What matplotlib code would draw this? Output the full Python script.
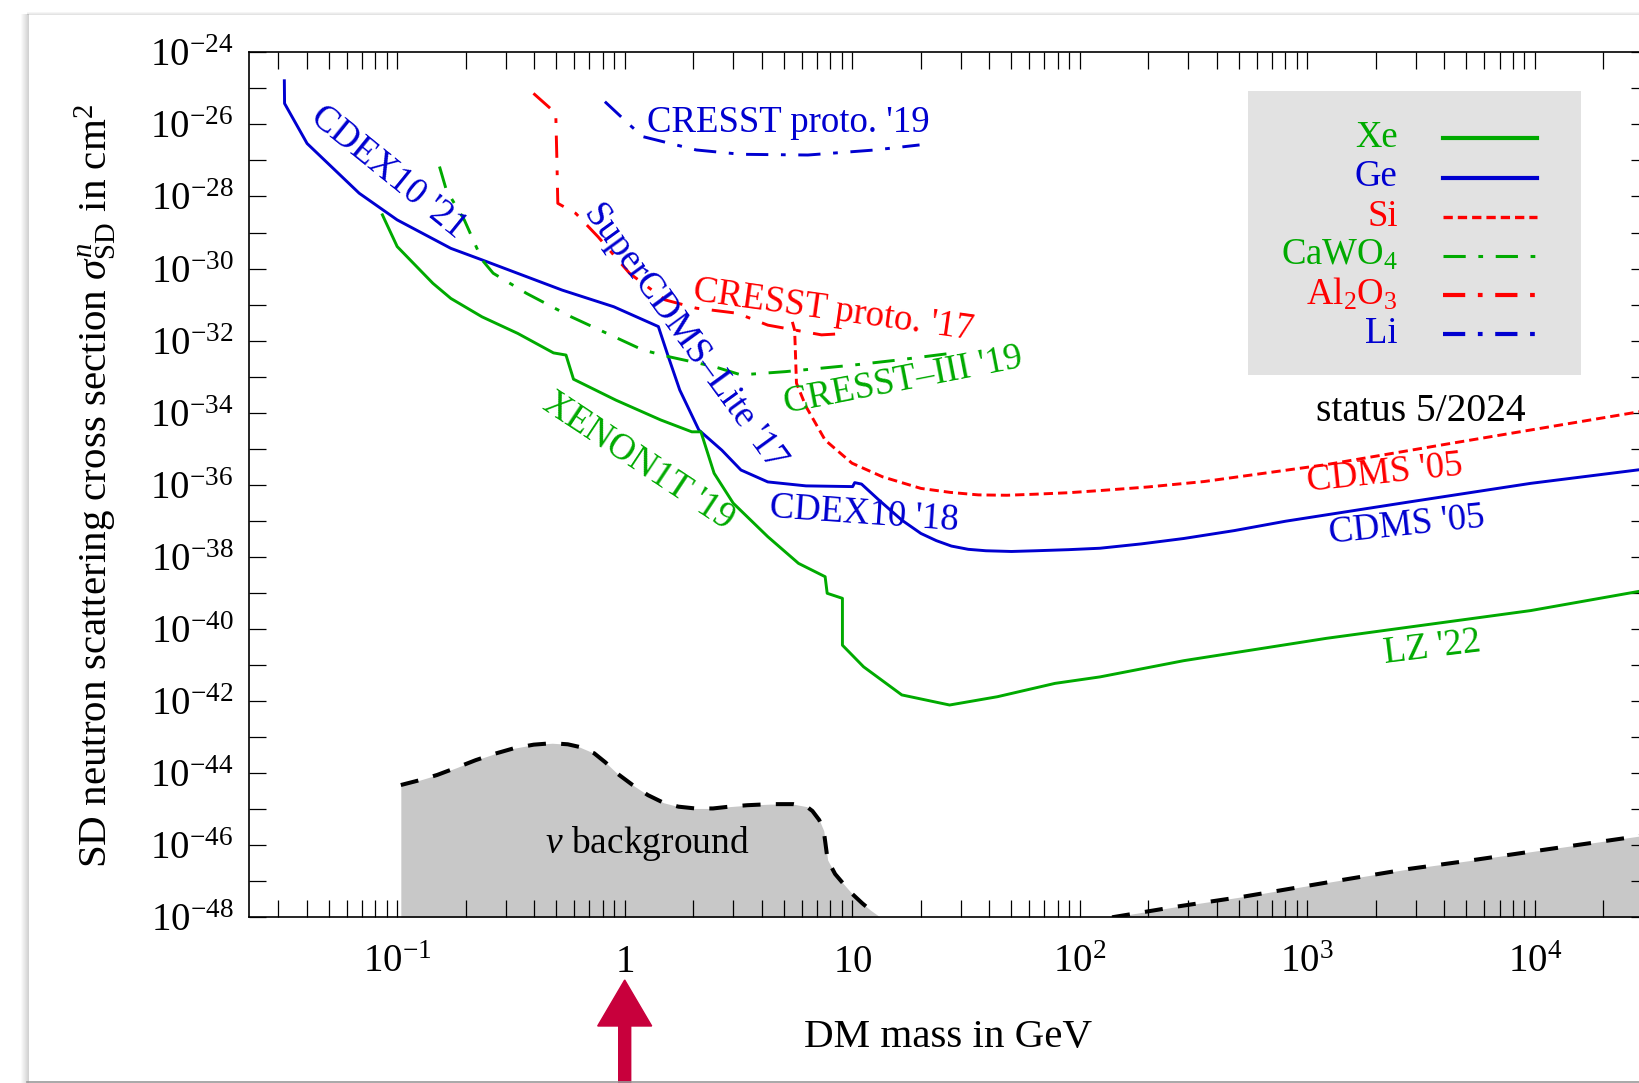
import numpy as np
import matplotlib
matplotlib.use("Agg")
import matplotlib.pyplot as plt
import matplotlib.transforms as mtransforms
from matplotlib.lines import Line2D
from matplotlib.patches import Rectangle, Polygon
from matplotlib.ticker import FixedLocator, FixedFormatter, NullFormatter, LogLocator

plt.rcParams["font.family"] = ["Liberation Serif", "DejaVu Serif"]
plt.rcParams["mathtext.fontset"] = "custom"
plt.rcParams["mathtext.rm"] = "Liberation Serif"
plt.rcParams["mathtext.it"] = "Liberation Serif:italic"
plt.rcParams["mathtext.bf"] = "Liberation Serif:bold"
plt.rcParams["mathtext.sf"] = "Liberation Serif"
plt.rcParams["lines.scale_dashes"] = False

GREEN = "#00aa00"
BLUE = "#0000d0"
RED = "#ff0000"

# ---------------- data (log10 of DM mass in GeV, log10 of cross section in cm^2) -------------
# Ge envelope: CDEX10 '21, SuperCDMS-Lite '17, CDEX10 '18, CDMS '05
ge_logm = [-1.496, -1.495, -1.396, -1.167, -1.000, -0.764, -0.627, -0.274, -0.048, 0.148,
           0.192, 0.242, 0.326, 0.427, 0.511, 0.629, 0.797, 1.002, 1.011, 1.041,
           1.117, 1.218, 1.302, 1.370, 1.436, 1.510, 1.588, 1.700, 1.807, 1.950, 2.089,
           2.270, 2.457, 2.680, 2.905, 3.444, 3.982, 4.5]
ge_logs = [-24.79, -25.42, -26.53, -27.91, -28.65, -29.44, -29.76, -30.60, -31.06, -31.61,
           -32.45, -33.37, -34.48, -35.04, -35.59, -35.92, -36.03, -36.05, -35.94, -35.98,
           -36.42, -36.98, -37.35, -37.55, -37.70, -37.79, -37.83, -37.85, -37.83, -37.80, -37.76,
           -37.64, -37.49, -37.27, -37.01, -36.48, -35.96, -35.55]

# Xe: XENON1T '19, LZ '22
xe_logm = [-1.065, -1.000, -0.843, -0.764, -0.627, -0.470, -0.313, -0.258, -0.225, -0.039,
           0.158, 0.295, 0.335, 0.393, 0.477, 0.629, 0.764, 0.881, 0.890, 0.957,
           0.957, 1.050, 1.218, 1.428, 1.638, 1.891, 2.089, 2.457, 3.084, 3.982, 4.5]
xe_logs = [-28.51, -29.39, -30.41, -30.83, -31.34, -31.80, -32.34, -32.40, -33.07, -33.65,
           -34.20, -34.53, -34.53, -35.68, -36.51, -37.44, -38.18, -38.55, -39.01, -39.15,
           -40.45, -41.05, -41.83, -42.11, -41.88, -41.51, -41.33, -40.88, -40.26, -39.49, -38.91]

# Si: CDMS '05
si_logm = [0.737, 0.747, 0.755, 0.797, 0.881, 0.999, 1.134, 1.302, 1.430, 1.554, 1.680,
           1.807, 1.950, 2.089, 2.300, 2.546, 3.084, 3.623, 4.5]
si_logs = [-31.48, -31.71, -33.18, -33.83, -34.76, -35.40, -35.78, -36.10, -36.21, -36.28,
           -36.29, -36.26, -36.22, -36.16, -36.06, -35.91, -35.44, -34.86, -33.93]

# CaWO4: CRESST-III '19
cawo4_logm = [-0.814, -0.784, -0.705, -0.627, -0.578, -0.431, -0.235, 0.080, 0.197, 0.393,
              0.511, 0.707, 1.002, 1.198, 1.436]
cawo4_logs = [-27.17, -27.82, -28.65, -29.76, -30.13, -30.69, -31.34, -32.26, -32.45, -32.72,
              -32.95, -32.86, -32.68, -32.54, -32.35]

# Al2O3: CRESST proto. '17
al2o3_logm = [-0.401, -0.303, -0.298, -0.294, -0.215, -0.117, 0.021, 0.178, 0.315, 0.495,
              0.629, 0.865, 0.974]
al2o3_logs = [-25.14, -25.69, -26.99, -28.19, -28.47, -29.12, -30.13, -30.87, -31.10, -31.24,
              -31.57, -31.84, -31.80]

# Li: CRESST proto. '19
li_logm = [-0.087, 0.030, 0.080, 0.315, 0.511, 0.805, 1.100, 1.296]
li_logs = [-25.37, -26.06, -26.34, -26.71, -26.83, -26.85, -26.71, -26.57]

# neutrino background (low-mass and high-mass parts)
nu_low_logm = [-0.984, -0.904, -0.824, -0.740, -0.655, -0.570, -0.487, -0.400, -0.319, -0.250,
               -0.201, -0.134, -0.085, -0.033, 0.035, 0.102, 0.170, 0.236, 0.310, 0.388,
               0.460, 0.539, 0.640, 0.741, 0.800, 0.825, 0.855, 0.875, 0.892, 0.925,
               0.960, 1.000, 1.044, 1.080, 1.111, 1.121]
nu_low_logs = [-44.33, -44.20, -44.05, -43.85, -43.64, -43.46, -43.31, -43.21, -43.17, -43.20,
               -43.27, -43.45, -43.70, -44.01, -44.33, -44.61, -44.82, -44.93, -44.98, -44.98,
               -44.93, -44.89, -44.86, -44.86, -44.93, -45.05, -45.30, -45.60, -46.41, -46.80,
               -47.06, -47.35, -47.61, -47.80, -47.94, -48.00]
nu_high_logm = [2.142, 2.430, 2.726, 3.100, 3.444, 3.710, 3.982, 4.5]
nu_high_logs = [-48.00, -47.70, -47.42, -47.02, -46.66, -46.43, -46.18, -45.71]

# curve labels
label_texts = ["CDEX10 '21", "CRESST proto. '19", "SuperCDMS\u2013Lite '17", "CRESST proto. '17",
               "CRESST\u2013III '19", "XENON1T '19", "CDEX10 '18", "CDMS '05", "CDMS '05", "LZ '22"]
label_colors = [BLUE, BLUE, BLUE, RED, GREEN, GREEN, BLUE, RED, BLUE, GREEN]
label_logm = [-1.039, 0.717, 0.266, 0.917, 1.226, 0.0615, 1.054, 3.340, 3.438, 3.551]
label_logs = [-27.34, -25.96, -31.87, -31.17, -33.12, -35.36, -36.82, -35.68, -37.12, -40.52]
label_rot = [-39, 0, -54, -8, 11, -33.5, -4, 6, 6, 7]

# legend entries
legend_names = ["Xe", "Ge", "Si", "CaWO$_4$", "Al$_2$O$_3$", "Li"]
legend_colors = [GREEN, BLUE, RED, GREEN, RED, BLUE]

x_major = [1e-1, 1, 10, 1e2, 1e3, 1e4]
x_major_labels = ["$10^{-1}$", "$1$", "$10$", "$10^{2}$", "$10^{3}$", "$10^{4}$"]
y_major_exp = list(range(-48, -23, 2))
y_minor_exp = list(range(-47, -24, 2))

# ---------------- styles ----------------
DASH_SI = (0, (6.7, 3.6))
DASH_DOT = (0, (16.0, 9.1, 3.4, 9.1))
DASH_NU = (0, (13.0, 11.0))
LW = 2.1

W, H = 1640, 1083
fig = plt.figure(figsize=(W / 100, H / 100), dpi=100)
pix = mtransforms.Affine2D().scale(1, -1).translate(0, H)  # top-left pixel coords

ax = fig.add_axes([249.3 / W, 1 - 917.3 / H, (1648.5 - 249.3) / W, (917.3 - 52.3) / H])
ax.set_xscale("log")
ax.set_yscale("log")


def P(lm, ls):
    return 10 ** np.asarray(lm, dtype=float), 10 ** np.asarray(ls, dtype=float)


# neutrino background
m, s = P(nu_low_logm, nu_low_logs)
ax.fill_between(m, s, 1e-48, color="#c8c8c8", lw=0, zorder=1)
ax.plot(m[:-1], s[:-1], color="k", ls=DASH_NU, lw=2.9, zorder=1.5)
m, s = P(nu_high_logm, nu_high_logs)
ax.fill_between(m, s, 1e-48, color="#c8c8c8", lw=0, zorder=1)
ax.plot(m, s, color="k", ls=DASH_NU, lw=2.9, zorder=1.5)

# limits
ax.plot(*P(ge_logm, ge_logs), color=BLUE, lw=LW, solid_joinstyle="round")
ax.plot(*P(xe_logm, xe_logs), color=GREEN, lw=LW, solid_joinstyle="round")
ax.plot(*P(si_logm, si_logs), color=RED, lw=LW, ls=DASH_SI)
ax.plot(*P(cawo4_logm, cawo4_logs), color=GREEN, lw=LW, ls=DASH_DOT)
ax.plot(*P(al2o3_logm, al2o3_logs), color=RED, lw=LW, ls=DASH_DOT)
ax.plot(*P(li_logm, li_logs), color=BLUE, lw=LW, ls=DASH_DOT)

for t, c, lm, ls_, r in zip(label_texts, label_colors, label_logm, label_logs, label_rot):
    ax.text(10 ** lm, 10 ** ls_, t, color=c, fontsize=26.5, rotation=r,
            ha="center", va="center", rotation_mode="anchor", zorder=4)

ax.text(10 ** 0.0976, 10 ** -45.94, r"$\nu$ background", color="k", fontsize=27,
        ha="center", va="center", zorder=4)

# axes limits and ticks
ax.set_xlim(10 ** -1.65, 10 ** 4.5)
ax.set_ylim(1e-48, 1e-24)
ax.xaxis.set_major_locator(FixedLocator(x_major))
ax.xaxis.set_major_formatter(FixedFormatter(x_major_labels))
ax.xaxis.set_minor_locator(LogLocator(base=10, subs=np.arange(2, 10), numticks=100))
ax.xaxis.set_minor_formatter(NullFormatter())
ax.yaxis.set_major_locator(FixedLocator([10.0 ** e for e in y_major_exp]))
ax.yaxis.set_major_formatter(FixedFormatter(["$10^{%d}$" % e for e in y_major_exp]))
ax.yaxis.set_minor_locator(FixedLocator([10.0 ** e for e in y_minor_exp]))
ax.yaxis.set_minor_formatter(NullFormatter())
ax.tick_params(which="both", direction="in", length=12.2, width=0.9, color="k",
               top=True, right=True, labelsize=28)
ax.tick_params(axis="y", which="major", pad=11.5)
ax.tick_params(axis="x", which="major", pad=19)
for sp in ax.spines.values():
    sp.set_linewidth(1.2)

# legend box (drawn by hand, text right-aligned to the left of the samples)
ax.add_patch(Rectangle((1248.3, 91), 332.7, 284, transform=pix, facecolor="#e2e2e2",
                       edgecolor="none", zorder=3, clip_on=False))
leg_styles = [("-", 3.0), ("-", 3.0), (DASH_SI, 2.4), (DASH_DOT, 2.2), (DASH_DOT, 3.0), (DASH_DOT, 3.0)]
for i, (name, col) in enumerate(zip(legend_names, legend_colors)):
    yb = 147.3 + 39.2 * i
    ax.text(1397.7, yb, name, transform=pix, color=col, fontsize=26.5, ha="right",
            va="baseline", zorder=4, clip_on=False)
    ls_, lw_ = leg_styles[i]
    ax.add_artist(Line2D([1442.7, 1536.5], [yb - 9, yb - 9], transform=pix, color=col,
                         ls=ls_, lw=lw_, zorder=4, clip_on=False))

ax.text(1420.5, 411.7, "status 5/2024", transform=pix, fontsize=28.5, ha="center",
        va="center", zorder=4, clip_on=False)

# axis labels
fig.text(948.0, 1046.7, "DM mass in GeV", transform=pix, fontsize=29.5, ha="center", va="baseline")
fig.text(106.7, 486.0, r"SD neutron scattering cross section $\sigma^{n}_{\mathrm{SD}}$ in cm$^{2}$",
         transform=pix, fontsize=29.5, rotation=90, ha="center", va="baseline",
         rotation_mode="anchor")

# slide decoration: soft shadow left/top and bottom edge
for i in range(8):
    fig.add_artist(Line2D([20 + i + 0.5, 20 + i + 0.5], [14, H], transform=pix,
                          color="0.55", alpha=0.04 + 0.05 * i, lw=0.72))
for i in range(3):
    fig.add_artist(Line2D([27, W], [11.5 + i, 11.5 + i], transform=pix,
                          color="0.55", alpha=0.08 + 0.08 * i, lw=0.72))
fig.add_artist(Line2D([27, W], [1081.5, 1081.5], transform=pix, color="0.6", lw=1.2))

# red pointer arrow under "1 GeV"
xa = ax.transData.transform((1.0, 1e-40))[0]
arrow = Polygon([[xa, 980], [xa + 27, 1026], [xa + 6, 1026], [xa + 6, H + 5],
                 [xa - 6, H + 5], [xa - 6, 1026], [xa - 27, 1026]],
                transform=pix, closed=True, facecolor="#c8003c", edgecolor="#c8003c", lw=1)
fig.add_artist(arrow)

fig.savefig("out.png", dpi=100)
